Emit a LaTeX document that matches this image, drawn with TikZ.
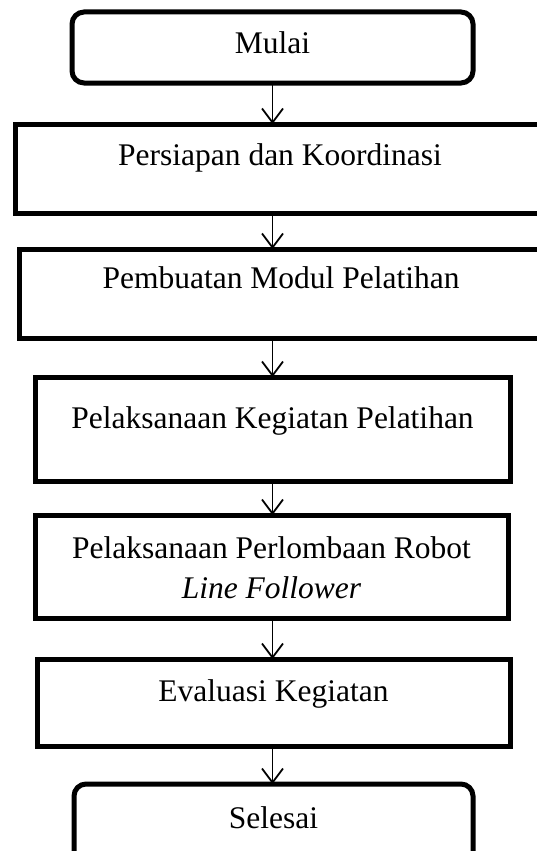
\documentclass[tikz,border=0pt]{standalone}
\usepackage{fontspec}
\setmainfont{Liberation Serif}
\usetikzlibrary{arrows.meta}
\tikzset{
  stepbox/.style={draw, line width=5pt, rectangle, anchor=north west,
    inner sep=0pt, outer sep=0pt, align=center,
    font=\fontsize{31.5}{40}\selectfont},
  endbox/.style={stepbox, rounded corners=12pt},
  flow/.style={line width=1.8pt, -{Straight Barb[length=14pt,width=21pt]}}
}
\begin{document}
\begin{tikzpicture}[x=1pt, y=-1pt]
  \path[use as bounding box, clip] (0, 0) rectangle (537, 851);
  \node[endbox, minimum width=401pt, text height=42pt, text depth=29pt]
    (mulai) at (72, 12) {Mulai};
  \node[stepbox, minimum width=530pt, text height=41pt, text depth=48pt]
    (persiapan) at (15, 124) {Persiapan dan Koordinasi};
  \node[stepbox, minimum width=524pt, text height=39pt, text depth=50pt]
    (modul) at (19, 249) {Pembuatan Modul Pelatihan};
  \node[stepbox, minimum width=475pt, text height=51pt, text depth=53pt]
    (pelatihan) at (35, 377) {Pelaksanaan Kegiatan Pelatihan};
  \node[stepbox, minimum width=473pt, text height=83pt, text depth=20pt]
    (lomba) at (35, 515) {Pelaksanaan Perlombaan Robot\\\textit{Line Follower}};
  \node[stepbox, minimum width=473pt, text height=42pt, text depth=45pt]
    (evaluasi) at (37, 659) {Evaluasi Kegiatan};
  \node[endbox, minimum width=399pt, text height=44pt, text depth=40pt]
    (selesai) at (74, 784) {Selesai};
  % arrows down the middle column
  \draw[flow] (mulai) -- (mulai |- persiapan.north);
  \draw[flow] (mulai |- persiapan.south) -- (mulai |- modul.north);
  \draw[flow] (mulai |- modul.south) -- (mulai |- pelatihan.north);
  \draw[flow] (mulai |- pelatihan.south) -- (mulai |- lomba.north);
  \draw[flow] (mulai |- lomba.south) -- (mulai |- evaluasi.north);
  \draw[flow] (mulai |- evaluasi.south) -- (mulai |- selesai.north);
\end{tikzpicture}
\end{document}
